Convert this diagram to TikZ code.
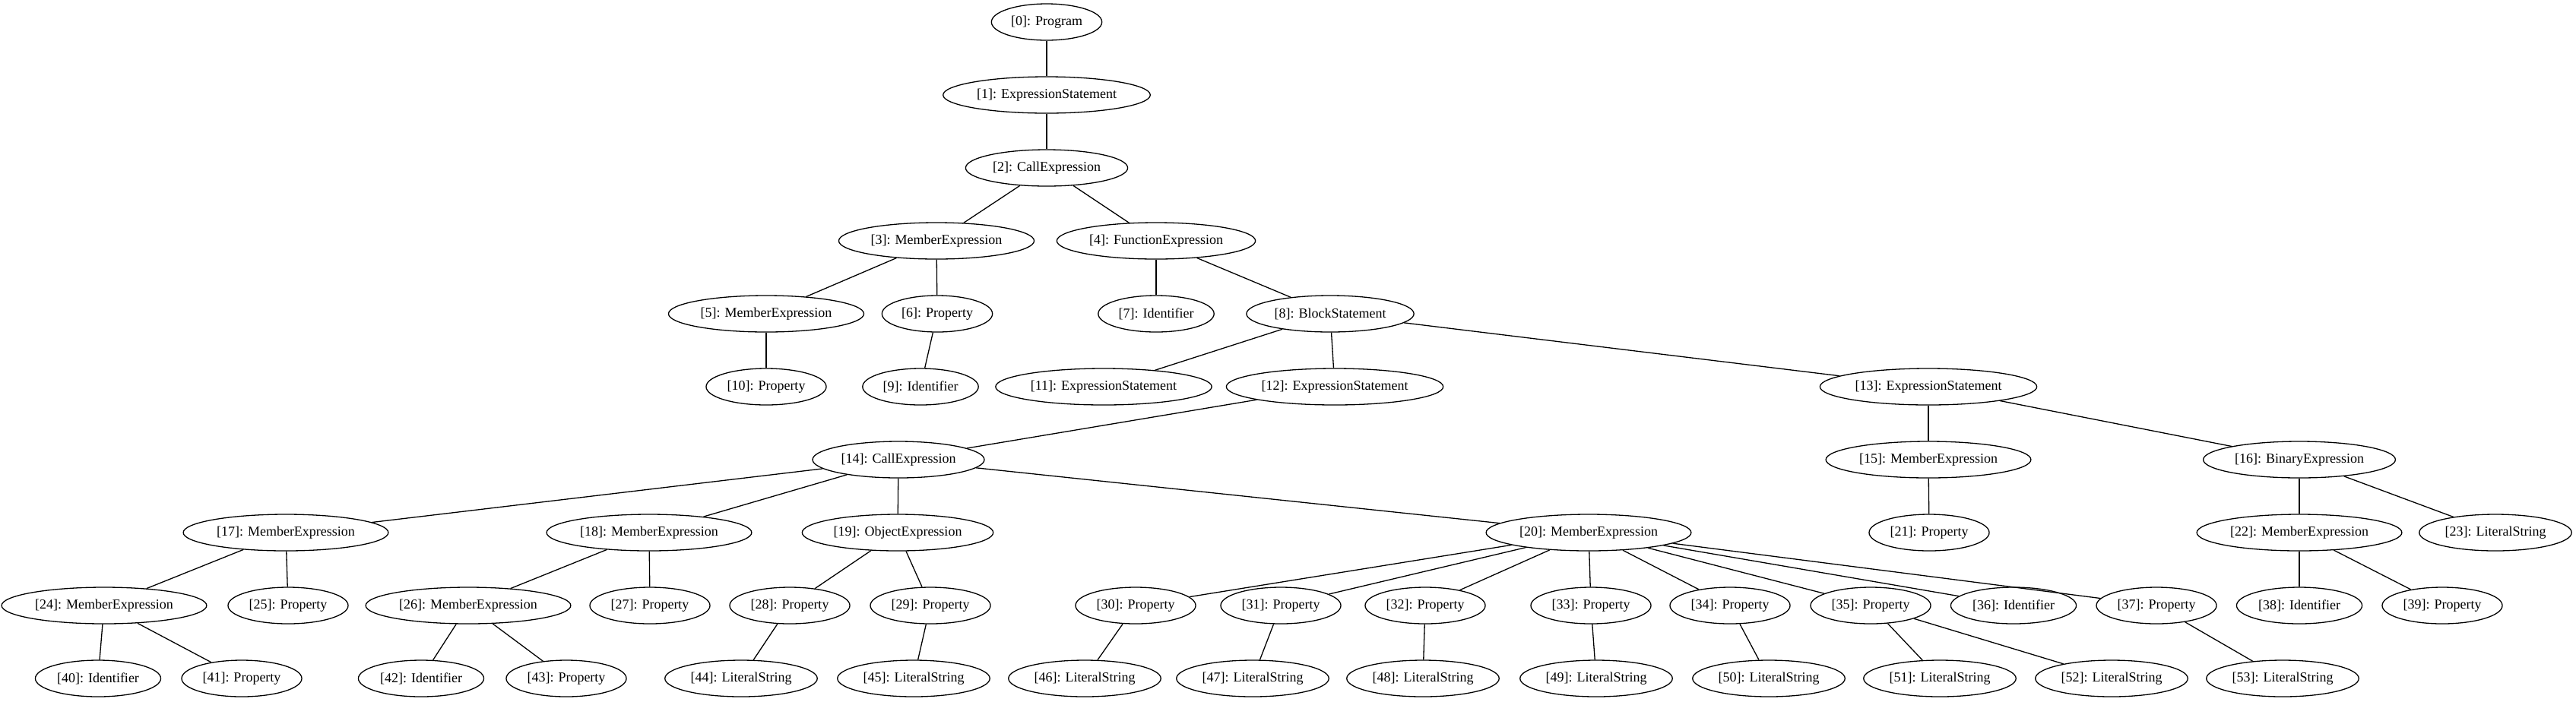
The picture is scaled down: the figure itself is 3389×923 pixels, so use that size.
\documentclass[tikz,border=0pt]{standalone}
\usepackage{fontspec}
\setmainfont{Liberation Serif}
\usetikzlibrary{shapes.geometric}
\tikzset{
  tn/.style={ellipse, draw, line width=0.65pt, minimum height=24pt, inner xsep=2.2pt, inner ysep=0pt, font=\fontsize{9}{10}\selectfont},
  ed/.style={draw, line width=0.65pt}
}
\begin{document}
\begin{tikzpicture}[x=0.5pt,y=-0.5pt]
\useasboundingbox (0,0) rectangle (3389,923);
% row 0-2
\node[tn] (n0) at (1377,29) {[0]: Program};
\node[tn] (n1) at (1377,125) {[1]: ExpressionStatement};
\node[tn] (n2) at (1377,221) {[2]: CallExpression};
% row 3
\node[tn] (n3) at (1232,317) {[3]: MemberExpression};
\node[tn] (n4) at (1521,317) {[4]: FunctionExpression};
% row 4
\node[tn] (n5) at (1008,413) {[5]: MemberExpression};
\node[tn] (n6) at (1233,413) {[6]: Property};
\node[tn] (n7) at (1521,413) {[7]: Identifier};
\node[tn] (n8) at (1750,413) {[8]: BlockStatement};
% row 5
\node[tn] (n10) at (1008,509) {[10]: Property};
\node[tn] (n9) at (1211,509) {[9]: Identifier};
\node[tn] (n11) at (1452,509) {[11]: ExpressionStatement};
\node[tn] (n12) at (1756,509) {[12]: ExpressionStatement};
\node[tn] (n13) at (2537,509) {[13]: ExpressionStatement};
% row 6
\node[tn] (n14) at (1182,605) {[14]: CallExpression};
\node[tn] (n15) at (2537,605) {[15]: MemberExpression};
\node[tn] (n16) at (3025,605) {[16]: BinaryExpression};
% row 7
\node[tn] (n17) at (376,701) {[17]: MemberExpression};
\node[tn] (n18) at (854,701) {[18]: MemberExpression};
\node[tn] (n19) at (1181,701) {[19]: ObjectExpression};
\node[tn] (n20) at (2090,701) {[20]: MemberExpression};
\node[tn] (n21) at (2538,701) {[21]: Property};
\node[tn] (n22) at (3025,701) {[22]: MemberExpression};
\node[tn] (n23) at (3283,701) {[23]: LiteralString};
% row 8
\node[tn] (n24) at (137,797) {[24]: MemberExpression};
\node[tn] (n25) at (379,797) {[25]: Property};
\node[tn] (n26) at (616,797) {[26]: MemberExpression};
\node[tn] (n27) at (855,797) {[27]: Property};
\node[tn] (n28) at (1039,797) {[28]: Property};
\node[tn] (n29) at (1224,797) {[29]: Property};
\node[tn] (n30) at (1494,797) {[30]: Property};
\node[tn] (n31) at (1685,797) {[31]: Property};
\node[tn] (n32) at (1875,797) {[32]: Property};
\node[tn] (n33) at (2093,797) {[33]: Property};
\node[tn] (n34) at (2276,797) {[34]: Property};
\node[tn] (n35) at (2461,797) {[35]: Property};
\node[tn] (n36) at (2649,797) {[36]: Identifier};
\node[tn] (n37) at (2837,797) {[37]: Property};
\node[tn] (n38) at (3025,797) {[38]: Identifier};
\node[tn] (n39) at (3213,797) {[39]: Property};
% row 9
\node[tn] (n40) at (129,893) {[40]: Identifier};
\node[tn] (n41) at (318,893) {[41]: Property};
\node[tn] (n42) at (554,893) {[42]: Identifier};
\node[tn] (n43) at (745,893) {[43]: Property};
\node[tn] (n44) at (975,893) {[44]: LiteralString};
\node[tn] (n45) at (1202,893) {[45]: LiteralString};
\node[tn] (n46) at (1427,893) {[46]: LiteralString};
\node[tn] (n47) at (1648,893) {[47]: LiteralString};
\node[tn] (n48) at (1872,893) {[48]: LiteralString};
\node[tn] (n49) at (2100,893) {[49]: LiteralString};
\node[tn] (n50) at (2327,893) {[50]: LiteralString};
\node[tn] (n51) at (2552,893) {[51]: LiteralString};
\node[tn] (n52) at (2778,893) {[52]: LiteralString};
\node[tn] (n53) at (3003,893) {[53]: LiteralString};
% edges
\foreach \a/\b in {0/1,1/2,2/3,2/4,3/5,3/6,4/7,4/8,5/10,6/9,8/11,8/12,8/13,12/14,13/15,13/16,
  14/17,14/18,14/19,14/20,15/21,16/22,16/23,17/24,17/25,18/26,18/27,19/28,19/29,
  20/30,20/31,20/32,20/33,20/34,20/35,20/36,20/37,22/38,22/39,24/40,24/41,26/42,26/43,
  28/44,29/45,30/46,31/47,32/48,33/49,34/50,35/51,35/52,37/53}
  \path[ed] (n\a) -- (n\b);
\end{tikzpicture}
\end{document}
